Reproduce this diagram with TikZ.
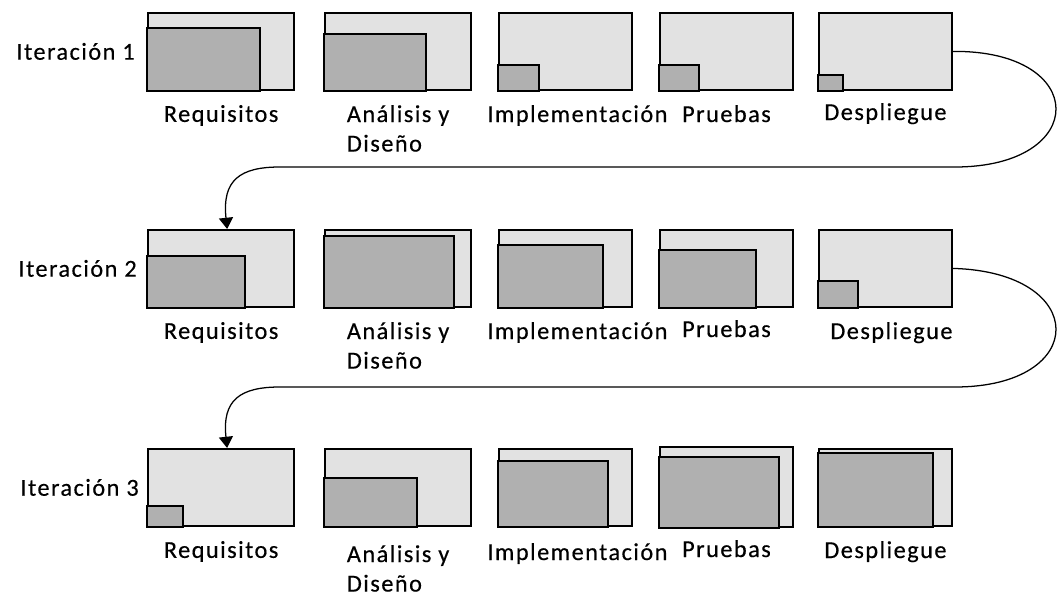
\documentclass[tikz,border=0pt]{standalone}
\usepackage{fontspec}
\setmainfont[LetterSpace=6, FakeBold=0.4]{Carlito}
\usepackage{xcolor}
\usetikzlibrary{positioning, arrows.meta}
\definecolor{fondogris}{RGB}{226,226,226}
\definecolor{avancegris}{RGB}{176,176,176}

\begin{document}
\begin{tikzpicture}[
    x=0.025cm, y=-0.025cm,
    fase/.style={rectangle, draw=black, line width=1.3pt, fill=fondogris, anchor=north west, minimum height=1.925cm, inner sep=0pt},
    ancha/.style={fase, minimum width=3.66cm},
    estrecha/.style={fase, minimum width=3.325cm},
    avance/.style={draw=black, line width=1.1pt, fill=avancegris},
    etiqueta/.style={font=\fontsize{17.3}{21}\selectfont, inner sep=0pt, align=center},
    iteracion/.style={font=\fontsize{17.3}{21}\selectfont, inner sep=0pt},
    flecha/.style={-{Triangle[width=10pt,length=8pt]}, line width=0.9pt}
]
    \useasboundingbox (0,0) rectangle (1059,596);

    % Iteracion 1
    \node[ancha] (req1) at (147,12) {};
    \node[ancha] (ana1) at (324,12) {};
    \node[estrecha] (imp1) at (498,12) {};
    \node[estrecha] (pru1) at (659,12) {};
    \node[estrecha] (des1) at (818,12) {};
    \draw[avance] (req1.south west) rectangle (260,28);
    \draw[avance] (ana1.south west) rectangle (426,34);
    \draw[avance] (imp1.south west) rectangle (539,65);
    \draw[avance] (pru1.south west) rectangle (699,65);
    \draw[avance] (des1.south west) rectangle (843,75);

    % Iteracion 2
    \node[ancha] (req2) at (147,229) {};
    \node[ancha] (ana2) at (324,229) {};
    \node[estrecha] (imp2) at (498,229) {};
    \node[estrecha] (pru2) at (659,229) {};
    \node[estrecha] (des2) at (818,229) {};
    \draw[avance] (req2.south west) rectangle (245,256);
    \draw[avance] (ana2.south west) rectangle (454,236);
    \draw[avance] (imp2.south west) rectangle (603,245);
    \draw[avance] (pru2.south west) rectangle (756,250);
    \draw[avance] (des2.south west) rectangle (858,281);

    % Iteracion 3
    \node[ancha] (req3) at (147,448) {};
    \node[ancha] (ana3) at (324,448) {};
    \node[estrecha] (imp3) at (498,448) {};
    \node[estrecha, minimum height=2cm] (pru3) at (659,446) {};
    \node[estrecha] (des3) at (818,448) {};
    \draw[avance] (req3.south west) rectangle (183,506);
    \draw[avance] (ana3.south west) rectangle (417,478);
    \draw[avance] (imp3.south west) rectangle (608,461);
    \draw[avance] (pru3.south west) rectangle (779,457);
    \draw[avance] (des3.south west) rectangle (933,453);

    \node[iteracion, left=0.3cm] (it1) at (req1.west) {Iteración 1};
    \node[iteracion, left=0.25cm] (it2) at (req2.west) {Iteración 2};
    \node[iteracion, left=0.2cm] (it3) at (req3.west) {Iteración 3};

    \node[etiqueta, below=0.35cm] (treq1) at (req1.south) {Requisitos};
    \node[etiqueta, align=left, below=0.35cm] (tana1) at (ana1.south) {Análisis y\\Diseño};
    \node[etiqueta, below=0.35cm, xshift=0.3cm] (timp1) at (imp1.south) {Implementación};
    \node[etiqueta, below=0.35cm] (tpru1) at (pru1.south) {Pruebas};
    \node[etiqueta, below=0.3cm] (tdes1) at (des1.south) {Despliegue};

    \node[etiqueta, below=0.35cm] (treq2) at (req2.south) {Requisitos};
    \node[etiqueta, align=left, below=0.35cm] (tana2) at (ana2.south) {Análisis y\\Diseño};
    \node[etiqueta, below=0.35cm, xshift=0.3cm] (timp2) at (imp2.south) {Implementación};
    \node[etiqueta, below=0.3cm] (tpru2) at (pru2.south) {Pruebas};
    \node[etiqueta, below=0.35cm, xshift=0.15cm] (tdes2) at (des2.south) {Despliegue};

    \node[etiqueta, below=0.35cm] (treq3) at (req3.south) {Requisitos};
    \node[etiqueta, align=left, below=0.45cm] (tana3) at (ana3.south) {Análisis y\\Diseño};
    \node[etiqueta, below=0.4cm, xshift=0.3cm] (timp3) at (imp3.south) {Implementación};
    \node[etiqueta, below=0.3cm] (tpru3) at (pru3.south) {Pruebas};
    \node[etiqueta, below=0.35cm] (tdes3) at (des3.south) {Despliegue};

    \draw[flecha] (des1.east) .. controls (1090,50) and (1090,167) .. (955,167)
        -- (280,167) .. controls (240,167) and (222,180) .. ([xshift=0.15cm]req2.north);
    \draw[flecha] (des2.east) .. controls (1090,272) and (1090,387) .. (955,387)
        -- (280,387) .. controls (240,387) and (222,400) .. ([xshift=0.15cm]req3.north);
\end{tikzpicture}
\end{document}
